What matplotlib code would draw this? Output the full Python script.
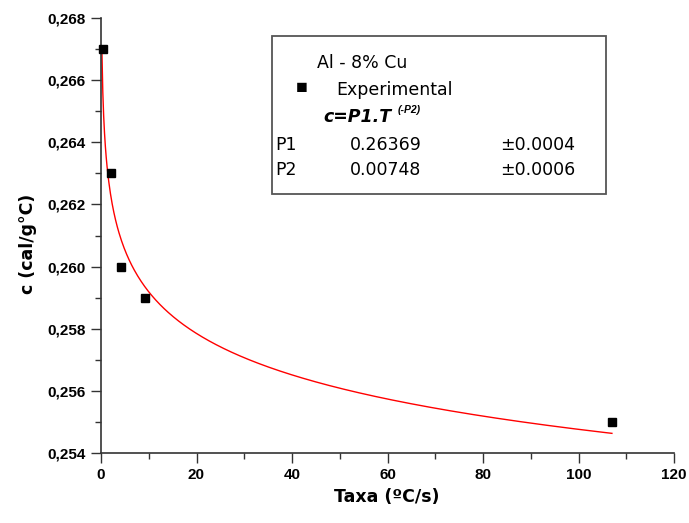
import numpy as np
import matplotlib
matplotlib.use("Agg")
import matplotlib.pyplot as plt
from matplotlib.ticker import MultipleLocator, FuncFormatter
from matplotlib.patches import Rectangle

# pontos experimentais
taxa = [0.5, 2.1, 4.2, 9.2, 107]
calor = [0.267, 0.263, 0.260, 0.259, 0.255]

# parametros do ajuste c = P1 * T^(-P2)
P1 = 0.26369
P2 = 0.00748
P1_err = 0.0004
P2_err = 0.0006

plt.rcParams['font.family'] = ['Liberation Sans', 'DejaVu Sans']

fig = plt.figure(figsize=(6.89, 5.23), dpi=100)
ax = fig.add_axes([101 / 689, 1 - 453 / 523, (674 - 101) / 689, (453 - 18) / 523])

t_fit = np.linspace(0.2, 107, 600)
ax.plot(t_fit, P1 * t_fit ** (-P2), color='red', lw=1.0, zorder=2)
ax.plot(taxa, calor, 's', color='black', ms=6, clip_on=False, zorder=3)

ax.set_xlim(0, 120)
ax.set_ylim(0.254, 0.268)
ax.xaxis.set_major_locator(MultipleLocator(20))
ax.xaxis.set_minor_locator(MultipleLocator(10))
ax.yaxis.set_major_locator(MultipleLocator(0.002))
ax.yaxis.set_minor_locator(MultipleLocator(0.001))
ax.yaxis.set_major_formatter(FuncFormatter(lambda v, p: ("%.3f" % v).replace('.', ',')))
ax.xaxis.set_major_formatter(FuncFormatter(lambda v, p: "%d" % round(v)))

for s in ['top', 'right']:
    ax.spines[s].set_visible(False)
for s in ['left', 'bottom']:
    ax.spines[s].set_color('#333333')
    ax.spines[s].set_linewidth(1.2)

ax.tick_params(which='both', direction='out', color='#333333', width=1.0)
ax.tick_params(which='major', length=7, labelsize=11, pad=4)
ax.tick_params(which='minor', length=4)
for lab in ax.get_xticklabels() + ax.get_yticklabels():
    lab.set_fontweight('bold')

ax.set_xlabel('Taxa (ºC/s)', fontsize=12.5, fontweight='bold', family='DejaVu Sans')
ax.xaxis.set_label_coords(0.498, -(497 - 453) / 435)
ax.xaxis.label.set_va('center')
ax.set_ylabel('c (cal/g°C)', fontsize=12.5, fontweight='bold', family='DejaVu Sans')
ax.yaxis.set_label_coords(-(101 - 28) / 573, (453 - 244) / 435)
ax.yaxis.label.set_va('center')

# caixa de legenda
box = Rectangle((272 / 689, 1 - 194 / 523), (606 - 272) / 689, (194 - 36) / 523,
                transform=fig.transFigure, facecolor='white', edgecolor='#555555',
                lw=1.3, zorder=5)
fig.patches.append(box)

def fx(px):
    return px / 689

def fy(py):
    return 1 - py / 523

lf = dict(fontsize=12.5, va='center', family='DejaVu Sans', zorder=6)
fig.text(fx(317), fy(63), 'Al - 8% Cu', **lf)
fig.text(fx(302), fy(89), '\u25a0', fontsize=14, va='center', ha='center', zorder=6)
fig.text(fx(336), fy(90), 'Experimental', **lf)
fig.text(fx(323), fy(117), 'c=P1.T', fontsize=12.5, va='center', fontweight='bold',
         style='italic', family='DejaVu Sans', zorder=6)
fig.text(fx(398), fy(110), '(-P2)', fontsize=7.5, va='center', fontweight='bold',
         style='italic', zorder=6)
fig.text(fx(275), fy(145), 'P1', **lf)
fig.text(fx(350), fy(145), '%.5f' % P1, **lf)
fig.text(fx(500), fy(145), '\u00b1%.4f' % P1_err, **lf)
fig.text(fx(275), fy(170), 'P2', **lf)
fig.text(fx(350), fy(170), '%.5f' % P2, **lf)
fig.text(fx(500), fy(170), '\u00b1%.4f' % P2_err, **lf)

fig.savefig('out.png', dpi=100)
